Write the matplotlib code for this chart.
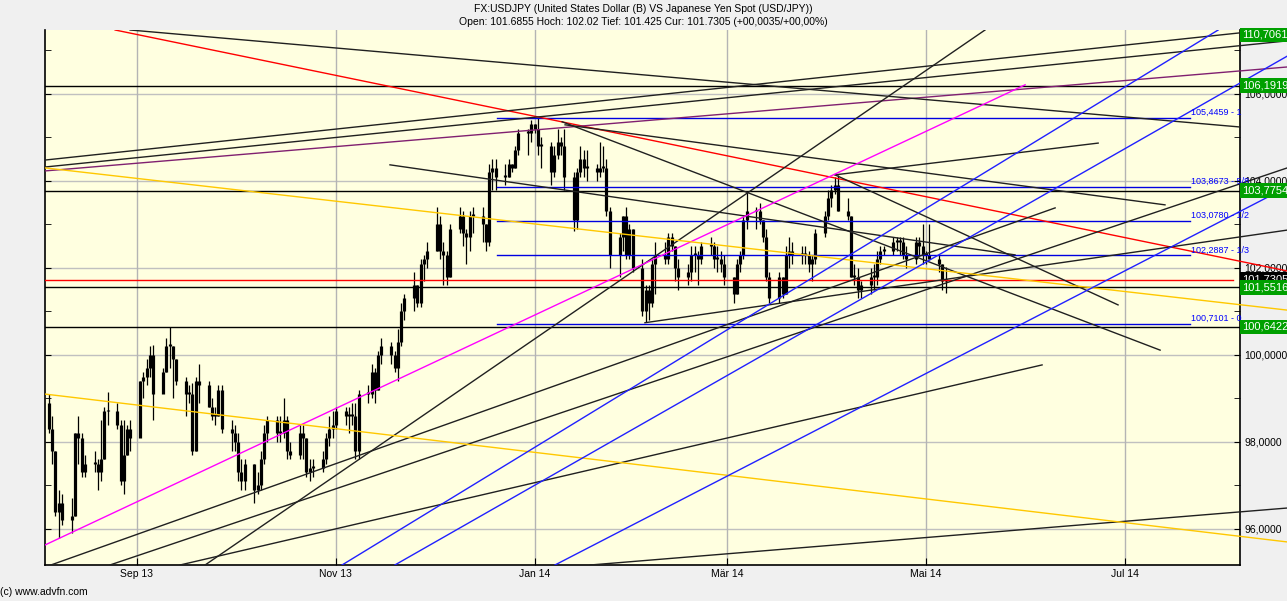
import numpy as np
import pandas as pd
import matplotlib
matplotlib.use('Agg')
import matplotlib.pyplot as plt
from matplotlib.patches import Rectangle
from matplotlib.transforms import blended_transform_factory

plt.rcParams['font.family'] = ['Liberation Sans', 'DejaVu Sans']

# daily USD/JPY bars, one per weekday starting 2013-08-05
first_open = 98.9
highs = [
    99.1, 98.6, 97.8, 96.9, 96.8,   96.7, 98.2, 98.6, 98.2, 97.7,
    97.8, 97.6, 98.5, 98.8, 99.15,  98.9, 98.5, 98.5, 98.4, 98.5,
    99.4, 99.6, 99.9, 100.2, 100.23,  99.7, 100.4, 100.64, 100.2, 99.9,
    99.5, 99.3, 99.36, 99.5, 99.8,  99.4, 99.0, 98.8, 99.3, 99.3,
    98.5, 98.4, 98.2, 97.6, 97.6,   97.5, 97.3, 97.8, 98.4, 98.6,
    98.6, 98.6, 99.0, 98.6, 98.0,   98.4, 98.4, 98.1, 97.6, 97.6,
    97.8, 98.2, 98.6, 98.7, 98.8,   98.8, 98.8, 98.9, 98.9, 99.2,
    99.3, 99.8, 99.7, 100.1, 100.4,  100.3, 100.1, 100.6, 101.2, 101.4,
    101.9, 101.6, 102.2, 102.3, 102.6,  103.4, 103.2, 102.6, 102.4, 103.0,
    103.4, 103.3, 102.9, 103.3, 103.4,  103.4, 103.0, 104.4, 104.5, 104.5,
    104.4, 104.5, 104.4, 104.8, 105.2,  105.2, 105.4, 105.3, 105.44, 105.0,
    104.9, 104.8, 105.2, 105.0, 105.2,  104.2, 104.3, 104.8, 104.7, 104.7,
    104.4, 104.9, 104.8, 104.5, 103.4,  102.8, 103.2, 103.4, 103.0, 102.9,
    102.2, 101.6, 101.6, 102.2, 102.6,  102.6, 102.8, 102.8, 102.5, 102.2,
    102.1, 102.5, 102.5, 102.4, 102.6,  102.7, 102.6, 102.5, 102.4, 102.3,
    101.8, 102.2, 102.4, 103.2, 103.76,  103.4, 103.5, 103.1, 102.9, 101.9,
    101.9, 101.8, 102.5, 102.7, 102.6,  102.5, 102.5, 102.4, 102.3, 102.9,
    103.3, 103.8, 103.9, 104.1, 104.13,  103.6, 103.2, 102.1, 102.0, 101.7,
    102.0, 102.1, 102.4, 102.5, 102.5,  102.7, 102.7, 102.7, 102.7, 102.5,
    102.7, 102.7, 103.0, 102.4, 103.0,  102.3, 102.1, 102.02,
]
lows = [
    98.2, 97.5, 96.3, 95.8, 96.1,   95.9, 96.3, 97.5, 97.2, 97.2,
    97.3, 96.9, 97.1, 97.6, 98.4,   98.3, 97.0, 96.8, 97.7, 97.8,
    98.3, 99.0, 99.3, 99.5, 98.5,   99.2, 99.6, 99.7, 99.0, 99.3,
    98.6, 98.9, 97.7, 97.8, 98.9,   98.8, 98.5, 98.4, 98.6, 98.2,
    97.8, 97.8, 97.1, 96.9, 96.9,   96.6, 96.8, 96.9, 97.5, 98.0,
    98.0, 98.0, 98.1, 97.6, 97.6,   97.6, 97.6, 97.2, 97.1, 97.2,
    97.3, 97.5, 97.9, 98.1, 98.3,   98.4, 98.2, 98.4, 97.6, 97.6,
    98.9, 99.0, 98.9, 99.2, 99.8,   99.8, 99.6, 99.4, 100.2, 100.8,
    101.0, 101.1, 101.1, 101.7, 102.0,  102.4, 102.2, 101.6, 101.6, 101.8,
    102.8, 102.5, 102.1, 102.4, 102.8,  102.6, 102.4, 102.5, 103.8, 103.8,
    103.9, 104.1, 104.2, 104.3, 104.6,  104.6, 104.9, 105.1, 104.6, 104.3,
    103.9, 104.1, 104.5, 104.6, 103.8,  102.86, 102.9, 104.1, 104.1, 104.0,
    104.0, 104.1, 104.2, 103.2, 102.0,  101.8, 102.4, 102.2, 102.2, 101.9,
    100.9, 100.76, 100.8, 101.1, 101.4,  102.1, 102.1, 102.4, 101.7, 101.5,
    101.6, 101.7, 101.9, 101.6, 102.1,  102.3, 102.0, 101.9, 101.9, 101.6,
    101.2, 101.4, 101.9, 102.2, 102.9,  102.9, 103.0, 102.6, 101.7, 101.2,
    101.2, 101.3, 101.4, 102.0, 102.1,  102.1, 102.1, 101.9, 101.7, 102.1,
    102.7, 103.1, 103.4, 103.7, 103.3,  103.1, 101.8, 101.6, 101.3, 101.3,
    101.4, 101.5, 101.6, 102.1, 102.3,  102.3, 102.4, 102.3, 102.2, 102.0,
    102.1, 102.3, 102.1, 102.1, 102.2,  101.9, 101.5, 101.425,
]
closes = [
    98.3, 97.8, 96.4, 96.6, 96.2,   96.3, 98.2, 98.1, 97.3, 97.5,
    97.5, 97.3, 97.6, 98.7, 98.7,   98.4, 97.1, 97.7, 98.3, 98.1,
    99.4, 99.5, 99.7, 100.0, 99.1,  99.6, 100.2, 100.2, 99.9, 99.4,
    99.1, 99.1, 97.8, 99.4, 99.3,   98.8, 98.6, 98.6, 99.2, 98.3,
    98.2, 98.0, 97.3, 97.1, 97.5,   96.9, 97.0, 97.6, 98.2, 98.5,
    98.2, 98.2, 98.5, 97.8, 97.7,   98.2, 98.1, 97.3, 97.4, 97.4,
    97.6, 98.1, 98.3, 98.4, 98.7,   98.6, 98.6, 98.6, 97.8, 99.1,
    99.1, 99.6, 99.2, 100.0, 100.2,  100.0, 99.7, 100.3, 101.0, 101.3,
    101.6, 101.2, 102.1, 102.2, 102.4,  103.0, 102.4, 102.3, 101.8, 102.9,
    103.2, 102.8, 102.7, 103.2, 103.2,  103.0, 102.6, 104.2, 104.3, 104.1,
    104.1, 104.4, 104.3, 104.7, 105.1,  105.1, 105.3, 105.2, 104.8, 104.8,
    104.2, 104.6, 104.9, 104.8, 104.1,  103.1, 104.2, 104.5, 104.3, 104.3,
    104.2, 104.3, 104.3, 103.3, 102.3,  102.7, 103.2, 102.3, 102.9, 102.0,
    101.0, 101.5, 101.2, 102.1, 102.3,  102.2, 102.7, 102.5, 102.0, 101.8,
    101.9, 102.3, 102.3, 102.2, 102.5,  102.5, 102.2, 102.2, 102.1, 101.8,
    101.4, 102.1, 102.3, 103.1, 103.3,  103.3, 103.1, 102.7, 101.8, 101.3,
    101.8, 101.4, 102.3, 102.4, 102.3,  102.3, 102.3, 102.1, 102.2, 102.8,
    103.2, 103.6, 103.8, 103.9, 103.3,  103.2, 101.8, 101.8, 101.5, 101.6,
    101.8, 101.8, 102.2, 102.4, 102.4,  102.6, 102.6, 102.6, 102.3, 102.2,
    102.6, 102.5, 102.3, 102.3, 102.2,  102.1, 101.7, 101.7305,
]

# drawn trendlines: (days after 2013-09-01, price) -> (days, price), colour
trend_lines = [
    (-6.7, 107.47, 352.8, 101.93, '#FF0000'),
    (-28.2, 104.48, 352.8, 107.52, '#202020'),
    (-28.2, 104.32, 352.8, 107.22, '#202020'),
    (-28.2, 104.23, 352.8, 106.62, '#802070'),
    (-2.1, 107.47, 338.3, 105.24, '#202020'),
    (131.3, 105.29, 315.3, 103.45, '#202020'),
    (130.4, 105.36, 313.8, 100.11, '#202020'),
    (77.6, 104.37, 269.3, 102.30, '#202020'),
    (214.1, 104.14, 300.9, 101.15, '#202020'),
    (214.1, 104.14, 294.8, 104.87, '#202020'),
    (20.9, 95.17, 260.1, 107.47, '#202020'),
    (-26.4, 95.17, 281.6, 103.38, '#202020'),
    (-8.3, 95.17, 352.8, 104.30, '#202020'),
    (13.2, 95.17, 277.6, 99.77, '#202020'),
    (155.8, 100.74, 352.8, 102.87, '#202020'),
    (139.0, 95.17, 352.8, 96.48, '#202020'),
    (-28.2, 95.63, 272.4, 106.21, '#FF00FF'),
    (-28.2, 104.30, 352.8, 101.03, '#FFC800'),
    (-28.2, 99.10, 352.8, 95.70, '#FFC800'),
    (62.9, 95.17, 331.6, 107.47, '#2020FF'),
    (79.1, 95.17, 352.8, 106.87, '#2020FF'),
    (128.2, 95.17, 352.8, 103.86, '#2020FF'),
]

# horizontal levels with their right-hand tags
level_prices = [106.1919, 103.7754, 101.5516, 100.6422]
level_tags = ['106,1919', '103,7754', '101,5516', '100,6422']
current_price = 101.7305

# retracement levels (mid Dec -> right edge)
fib_prices = [105.4459, 103.8673, 103.0780, 102.2887, 100.7101]
fib_labels = ['105,4459 - 1', '103,8673 - 5/8', '103,0780 - 1/2',
              '102,2887 - 1/3', '100,7101 - 0']
fib_start, fib_end = 110.4, 323.0

month_pos = [0, 61, 122, 181, 242, 303]
month_labels = ['Sep 13', 'Nov 13', 'Jan 14', 'Mär 14', 'Mai 14', 'Jul 14']


def main():
    fig = plt.figure(figsize=(12.87, 6.01), dpi=100, facecolor='#F0F0F0')
    W, H = 1287.0, 601.0
    ax = fig.add_axes([45 / W, 36 / H, 1195 / W, 535 / H])
    ax.set_facecolor('#FFFFE0')

    # ticks first (set_yticks may widen the limits), then fix the view
    ax.set_yticks(range(96, 108, 2))
    ax.set_yticks(range(97, 108, 2), minor=True)
    ax.set_yticklabels([f'{v:.4f}'.replace('.', ',') for v in range(96, 108, 2)])
    ax.set_xticks(month_pos)
    ax.set_xticklabels(month_labels)
    ax.set_xlim(-28.2, 338.3)
    ax.set_ylim(95.17, 107.47)

    # grid
    for p in range(96, 108, 2):
        ax.axhline(p, color='#C0C0C0', lw=1.0, zorder=1)
    for m in month_pos:
        ax.axvline(m, color='#B4B4B4', lw=1.0, zorder=1)

    # bars
    dates = pd.bdate_range('2013-08-05', periods=len(closes))
    x = (dates - pd.Timestamp('2013-09-01')).days.values.astype(float)
    o = np.array([first_open] + closes[:-1])
    c = np.array(closes)
    lo = np.minimum(o, c)
    hi = np.maximum(o, c)
    hi = np.where(hi - lo < 0.04, lo + 0.04, hi)
    ax.vlines(x, lows, highs, color='black', lw=0.9, zorder=3)
    ax.vlines(x, lo, hi, color='black', lw=2.3, zorder=3)

    clip = Rectangle((0, 0), 1.04, 1.0, transform=ax.transAxes,
                     facecolor='none', edgecolor='none')

    for p in level_prices:
        ax.axhline(p, color='black', lw=1.0, zorder=4)
    ax.plot([-28.2, 336.2], [current_price, current_price],
            color='#FF0000', lw=1.0, zorder=4)

    for p in fib_prices:
        ax.plot([fib_start, fib_end], [p, p], color='#0000E0', lw=1.0, zorder=4)

    for d0, p0, d1, p1, col in trend_lines:
        ln, = ax.plot([d0, d1], [p0, p1], color=col, lw=1.0, zorder=4)
        ln.set_clip_path(clip)

    for p, lab in zip(fib_prices, fib_labels):
        ax.text(fib_end + 0.3, p + 0.02, lab, color='#0000FF', fontsize=6.5,
                va='bottom', ha='left', clip_on=False, zorder=6)

    # axes
    ax.spines['top'].set_visible(False)
    for s in ['left', 'right', 'bottom']:
        ax.spines[s].set_linewidth(1.2)
    ax.tick_params(axis='y', which='both', direction='in', left=True,
                   right=True, labelleft=False, labelright=True, length=4,
                   pad=3, labelsize=7.5)
    ax.tick_params(axis='x', direction='in', length=5, pad=3, labelsize=7.5)

    # right-hand price tags
    tr = blended_transform_factory(ax.transAxes, ax.transData)
    ax.text(1.002, current_price, '101,7305', transform=tr, color='white',
            fontsize=8, va='center', ha='left', clip_on=False, zorder=8,
            bbox=dict(boxstyle='square,pad=0.2', fc='black', ec='none'))
    ax.text(1.002, 107.36, '110,7061', transform=tr, color='white',
            fontsize=8, va='center', ha='left', clip_on=False, zorder=9,
            bbox=dict(boxstyle='square,pad=0.2', fc='#00A000', ec='none'))
    for p, lab in zip(level_prices, level_tags):
        ax.text(1.002, p, lab, transform=tr, color='white', fontsize=8,
                va='center', ha='left', clip_on=False, zorder=9,
                bbox=dict(boxstyle='square,pad=0.2', fc='#00A000', ec='none'))

    fig.text(0.5, 1 - 9 / H, 'FX:USDJPY (United States Dollar (B) VS Japanese Yen Spot (USD/JPY))',
             ha='center', va='center', fontsize=7.5)
    fig.text(0.5, 1 - 22 / H, 'Open: 101.6855 Hoch: 102.02 Tief: 101.425 Cur: 101.7305 (+00,0035/+00,00%)',
             ha='center', va='center', fontsize=7.5)
    fig.text(0, 1 - 592 / H, '(c) www.advfn.com', ha='left', va='center', fontsize=7.5)

    fig.savefig('out.png', dpi=100, facecolor=fig.get_facecolor())


if __name__ == "__main__":
    main()
